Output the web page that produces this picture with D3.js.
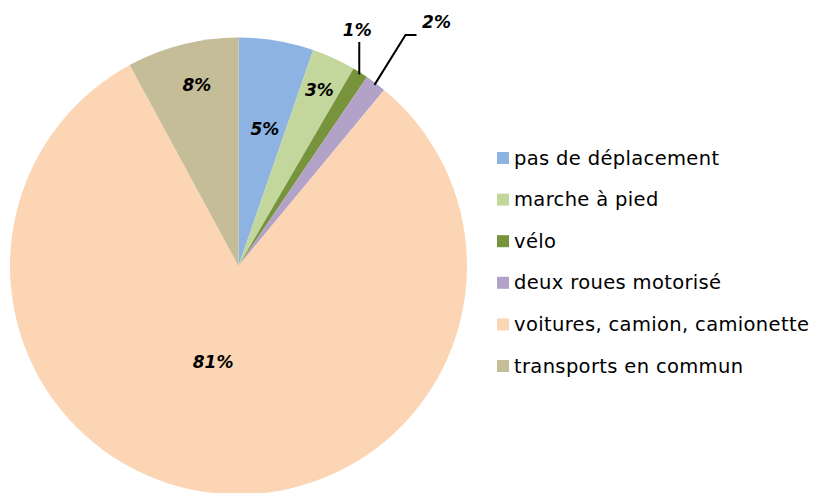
<!DOCTYPE html>
<html><head><meta charset="utf-8">
<script src="https://cdn.jsdelivr.net/npm/d3@7"></script>
<style>body{margin:0;background:#fff}svg{display:block}</style>
</head><body>
<svg id="c" width="817" height="493"></svg>
<script>
const categories = ["pas de déplacement","marche à pied","vélo","deux roues motorisé","voitures, camion, camionette","transports en commun"];
const values = [5.3, 3.1, 1.1, 1.5, 81.1, 7.9];
const colors = ["#8DB3E2","#C3D69B","#77933C","#B2A2C7","#FCD5B5","#C4BD97"];

const svg = d3.select("#c");
const cx = 238.5, cy = 266, R = 228.5;
const FONT = "'DejaVu Sans', sans-serif";
const pie = d3.pie().sort(null).value(d => d)(values);
const arc = d3.arc().innerRadius(0).outerRadius(R);
const g = svg.append("g").attr("transform", `translate(${cx},${cy})`);
g.selectAll("path").data(pie).join("path").attr("d", arc).attr("fill", (d,i) => colors[i]);

// label placement: [radius, angle offset (deg)], or leader line for small slices
const labelPlace = [
  {r:140, da:1.3},
  {r:194, da:0},
  {leader:"up"},
  {leader:"elbow"},
  {r:99, da:9.3},
  {r:186, da:1.3}
];
const pct = d3.format(".0f");
function label(x, y, txt) {
  g.append("text").attr("x", x).attr("y", y)
    .attr("text-anchor","middle").attr("dominant-baseline","central")
    .attr("font-family",FONT).attr("font-size",17).attr("font-weight","bold").attr("font-style","italic")
    .attr("fill","#000").text(txt);
}
pie.forEach((d,i) => {
  const mid = (d.startAngle + d.endAngle)/2;
  const p = labelPlace[i];
  const txt = pct(d.value) + "%";
  if (!p.leader) {
    const a = mid + p.da*Math.PI/180;
    label(p.r*Math.sin(a), -p.r*Math.cos(a), txt);
  } else {
    const x0 = (R-2)*Math.sin(mid), y0 = -(R-2)*Math.cos(mid);
    if (p.leader === "up") {
      g.append("line").attr("x1",x0).attr("y1",y0).attr("x2",x0).attr("y2",-224)
        .attr("stroke","#000").attr("stroke-width",2);
      label(x0-2, -236, txt);
    } else {
      const x1 = x0+31, y1 = -231, x2 = x1+11;
      g.append("path").attr("d",`M${x0},${y0}L${x1},${y1}L${x2},${y1}`)
        .attr("fill","none").attr("stroke","#000").attr("stroke-width",2);
      label(x2+20, -244, txt);
    }
  }
});

// legend
const ly = d3.scalePoint().domain(categories).range([158, 366]);
const lg = svg.append("g");
categories.forEach((c,i) => {
  lg.append("rect").attr("x",497).attr("y",ly(c)-6).attr("width",12).attr("height",12).attr("fill",colors[i]);
  lg.append("text").attr("x",514).attr("y",ly(c)).attr("dominant-baseline","central")
    .attr("font-family",FONT).attr("font-size",19.5).attr("letter-spacing",0.35).attr("fill","#000").text(c);
});
</script>
</body></html>
